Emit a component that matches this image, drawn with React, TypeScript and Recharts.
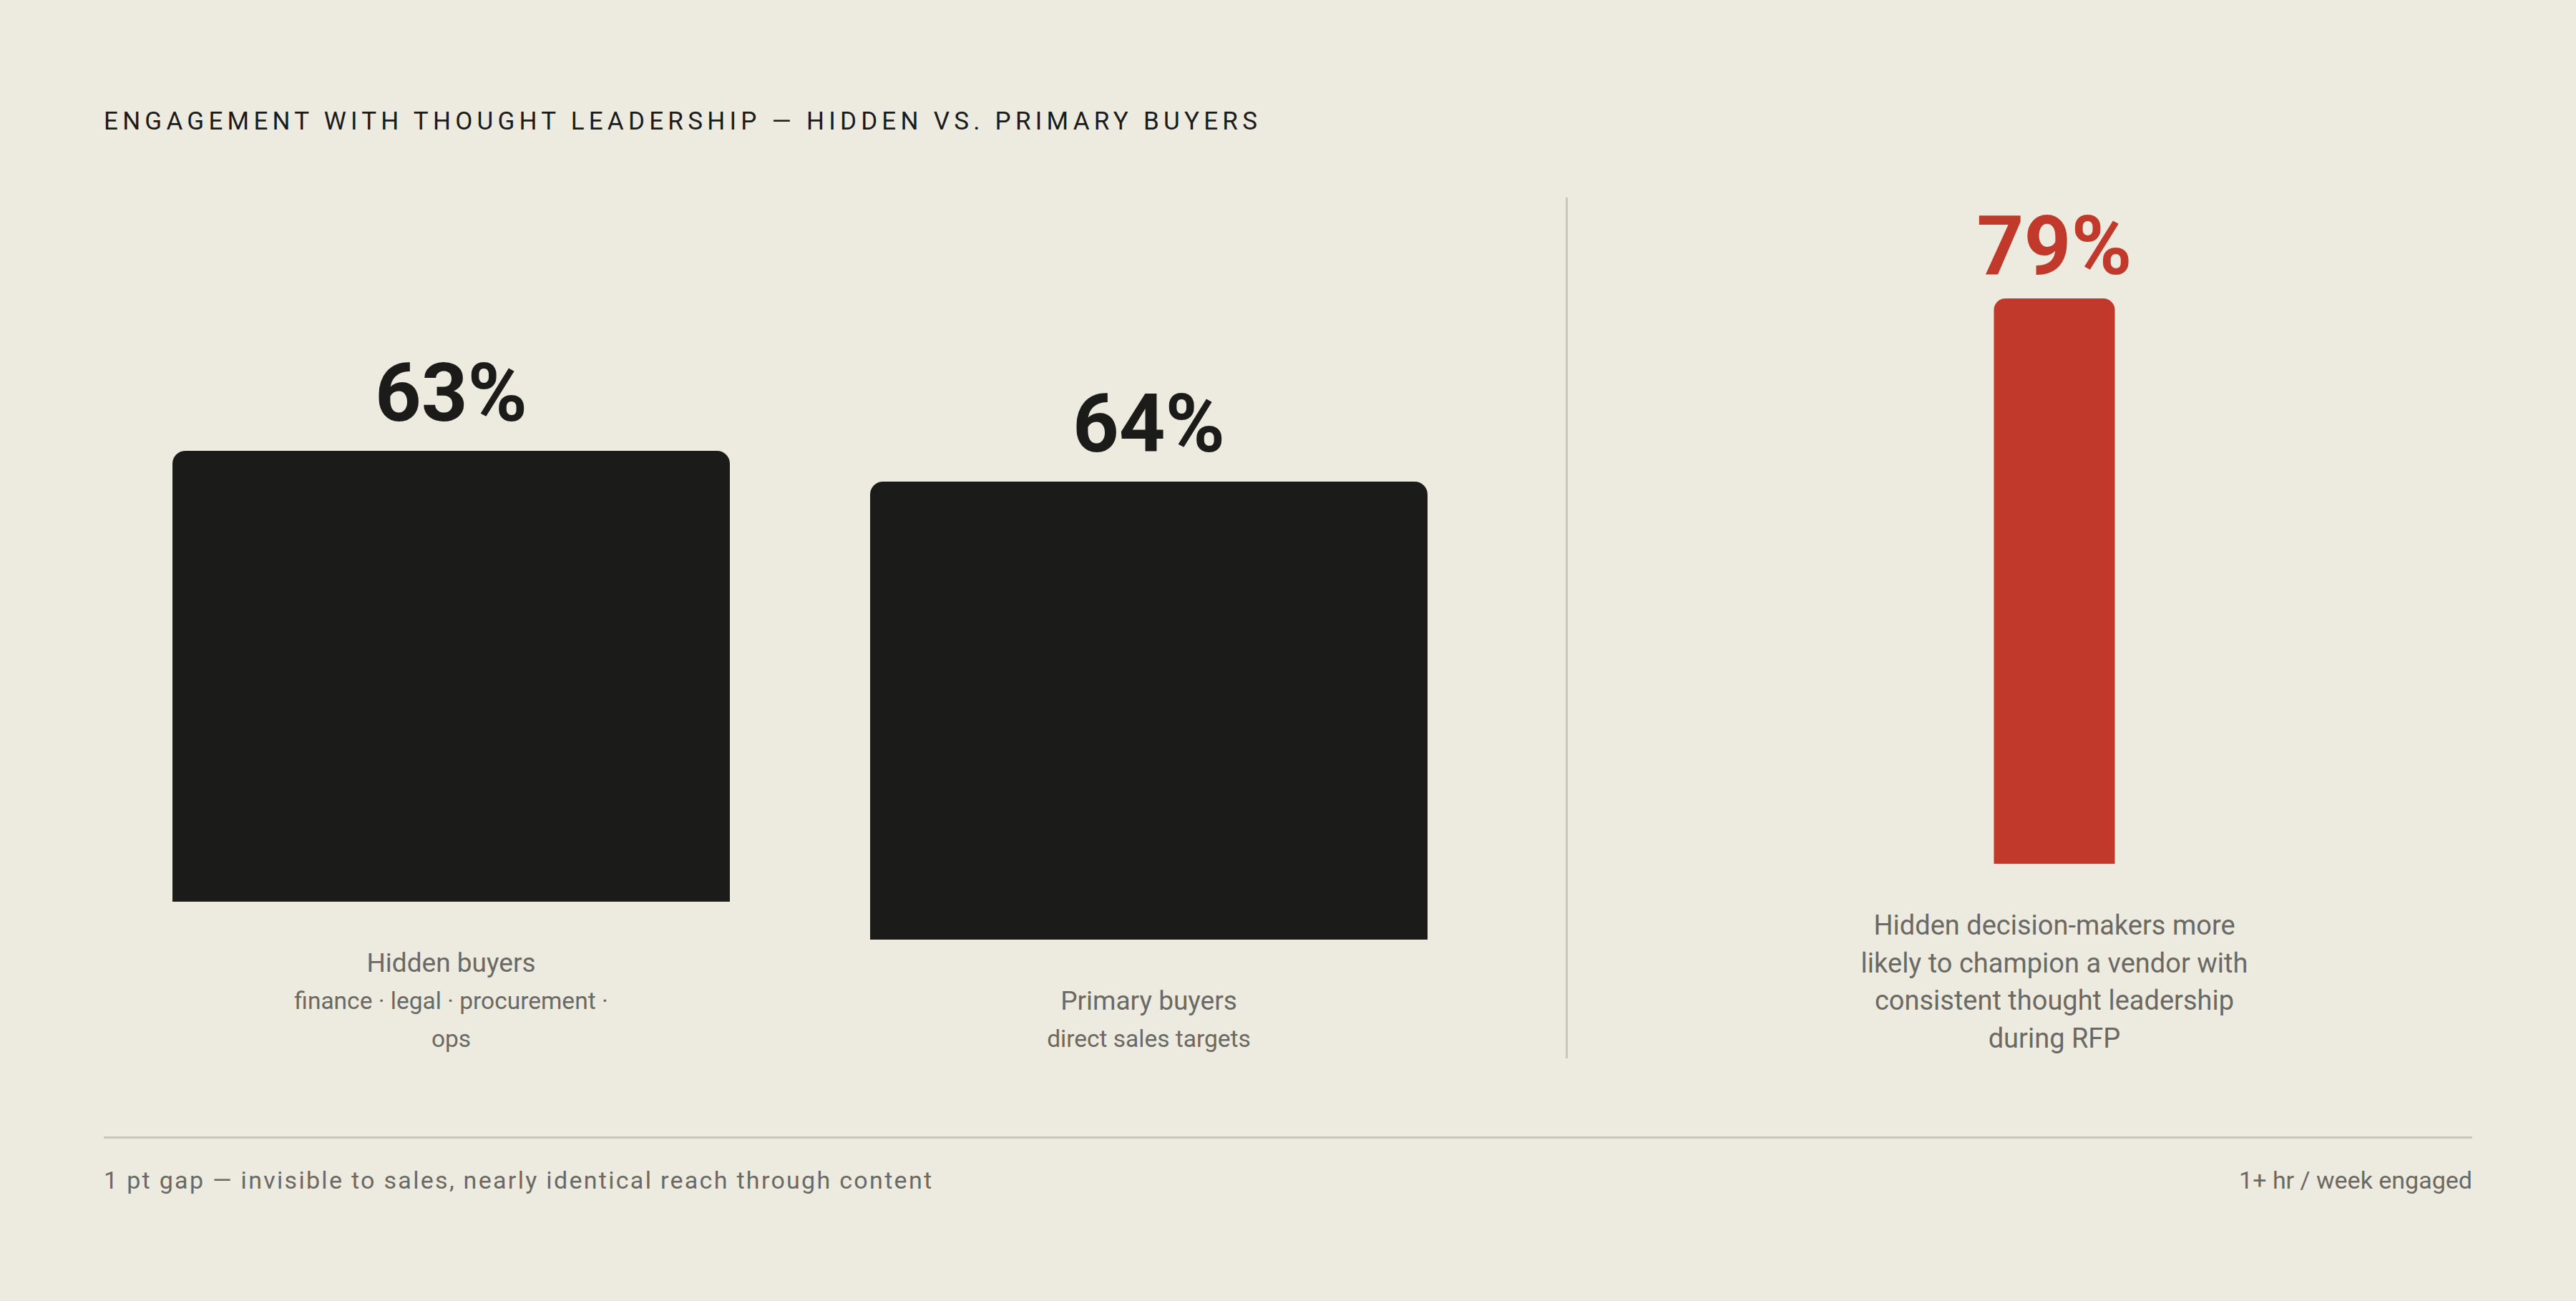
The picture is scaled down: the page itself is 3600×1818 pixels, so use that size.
import React from "react";
import { BarChart, Bar, XAxis, YAxis, LabelList } from "recharts";

const titleText = "ENGAGEMENT WITH THOUGHT LEADERSHIP — HIDDEN VS. PRIMARY BUYERS";
const categories = ["Hidden buyers", "Primary buyers"];
const categoryNotes = [["finance · legal · procurement ·", "ops"], ["direct sales targets"]];
const engagementValues = [63, 64];
const championLines = [
  "Hidden decision-makers more",
  "likely to champion a vendor with",
  "consistent thought leadership",
  "during RFP",
];
const championValues = [79];
const footerLeft = "1 pt gap — invisible to sales, nearly identical reach through content";
const footerRight = "1+ hr / week engaged";

const BG = "#edeae0";
const INK = "#1b1b19";
const RED = "#c0392b";
const GRAY = "#6b6963";
const RULE = "#c9c6bc";
const FONT = "Roboto, 'Noto Sans', sans-serif";

const BuyerTick = (props: any) => {
  const { x, y, payload } = props;
  const idx = categories.indexOf(payload.value);
  const notes = categoryNotes[idx] || [];
  return (
    <g>
      <text x={x} y={y + 85} textAnchor="middle" dominantBaseline="central" fontSize={37} fill={GRAY} fontFamily={FONT}>
        {payload.value}
      </text>
      {notes.map((n, i) => (
        <text key={i} x={x} y={y + 138 + 53 * i} textAnchor="middle" dominantBaseline="central" fontSize={33.5} fill={GRAY} fontFamily={FONT}>
          {n}
        </text>
      ))}
    </g>
  );
};

const ChampionTick = (props: any) => {
  const { x, y } = props;
  return (
    <g>
      {championLines.map((n, i) => (
        <text key={i} x={x} y={y + 86 + 52.7 * i} textAnchor="middle" dominantBaseline="central" fontSize={38} fill={GRAY} fontFamily={FONT}>
          {n}
        </text>
      ))}
    </g>
  );
};

function BuyerColumn({ index, left, baseline }: { index: number; left: number; baseline: number }) {
  const data = [{ name: categories[index], value: engagementValues[index] }];
  const marginTop = 110;
  const plotH = 1000;
  const axisH = 230;
  const top = baseline - plotH - marginTop;
  return (
    <div style={{ position: "absolute", left, top }}>
      <BarChart
        width={779}
        height={marginTop + plotH + axisH}
        data={data}
        margin={{ top: marginTop, right: 0, bottom: 0, left: 0 }}
        barCategoryGap={0}
        barGap={0}
      >
        <XAxis dataKey="name" axisLine={false} tickLine={false} tickSize={0} tickMargin={0} height={axisH} tick={<BuyerTick />} interval={0} />
        <YAxis hide domain={[0, 100]} />
        <Bar dataKey="value" fill={INK} radius={[18, 18, 0, 0]} isAnimationActive={false}>
          <LabelList
            dataKey="value"
            position="top"
            offset={42}
            formatter={(v: any) => `${v}%`}
            fill={INK}
            fontSize={113}
            fontWeight={700}
            fontFamily={FONT}
          />
        </Bar>
      </BarChart>
    </div>
  );
}

function ChampionColumn() {
  const data = [{ name: "champion", value: championValues[0] }];
  const marginTop = 110;
  const plotH = 1000;
  const axisH = 300;
  const baseline = 1207;
  const width = 700;
  const barW = 169;
  const side = (width - barW) / 2;
  return (
    <div style={{ position: "absolute", left: 2871 - width / 2, top: baseline - plotH - marginTop }}>
      <BarChart
        width={width}
        height={marginTop + plotH + axisH}
        data={data}
        margin={{ top: marginTop, right: side, bottom: 0, left: side }}
        barCategoryGap={0}
        barGap={0}
      >
        <XAxis dataKey="name" axisLine={false} tickLine={false} tickSize={0} tickMargin={0} height={axisH} tick={<ChampionTick />} interval={0} />
        <YAxis hide domain={[0, 100]} />
        <Bar dataKey="value" fill={RED} radius={[16, 16, 0, 0]} isAnimationActive={false}>
          <LabelList
            dataKey="value"
            position="top"
            offset={34}
            formatter={(v: any) => `${v}%`}
            fill={RED}
            fontSize={115}
            fontWeight={700}
            fontFamily={FONT}
          />
        </Bar>
      </BarChart>
    </div>
  );
}

export default function App() {
  return (
    <div
      style={{
        position: "relative",
        width: 3600,
        height: 1818,
        background: BG,
        fontFamily: FONT,
        overflow: "hidden",
      }}
    >
      <style>{`html,body{margin:0;padding:0;background:${BG};}`}</style>
      <div
        style={{
          position: "absolute",
          left: 145,
          top: 149,
          fontSize: 35,
          lineHeight: "42px",
          letterSpacing: 6.25,
          color: INK,
          whiteSpace: "nowrap",
        }}
      >
        {titleText}
      </div>

      <BuyerColumn index={0} left={241} baseline={1260} />
      <BuyerColumn index={1} left={1216} baseline={1313} />

      <div style={{ position: "absolute", left: 2188, top: 276, width: 3, height: 1203, background: RULE }} />

      <ChampionColumn />

      <div style={{ position: "absolute", left: 145, top: 1588, width: 3310, height: 3, background: RULE }} />

      <div
        style={{
          position: "absolute",
          left: 145,
          top: 1628,
          fontSize: 34,
          lineHeight: "42px",
          letterSpacing: 2.3,
          color: GRAY,
          whiteSpace: "nowrap",
        }}
      >
        {footerLeft}
      </div>
      <div
        style={{
          position: "absolute",
          right: 3600 - 3455,
          top: 1628,
          fontSize: 34,
          lineHeight: "42px",
          color: GRAY,
          whiteSpace: "nowrap",
          textAlign: "right",
        }}
      >
        {footerRight}
      </div>
    </div>
  );
}
